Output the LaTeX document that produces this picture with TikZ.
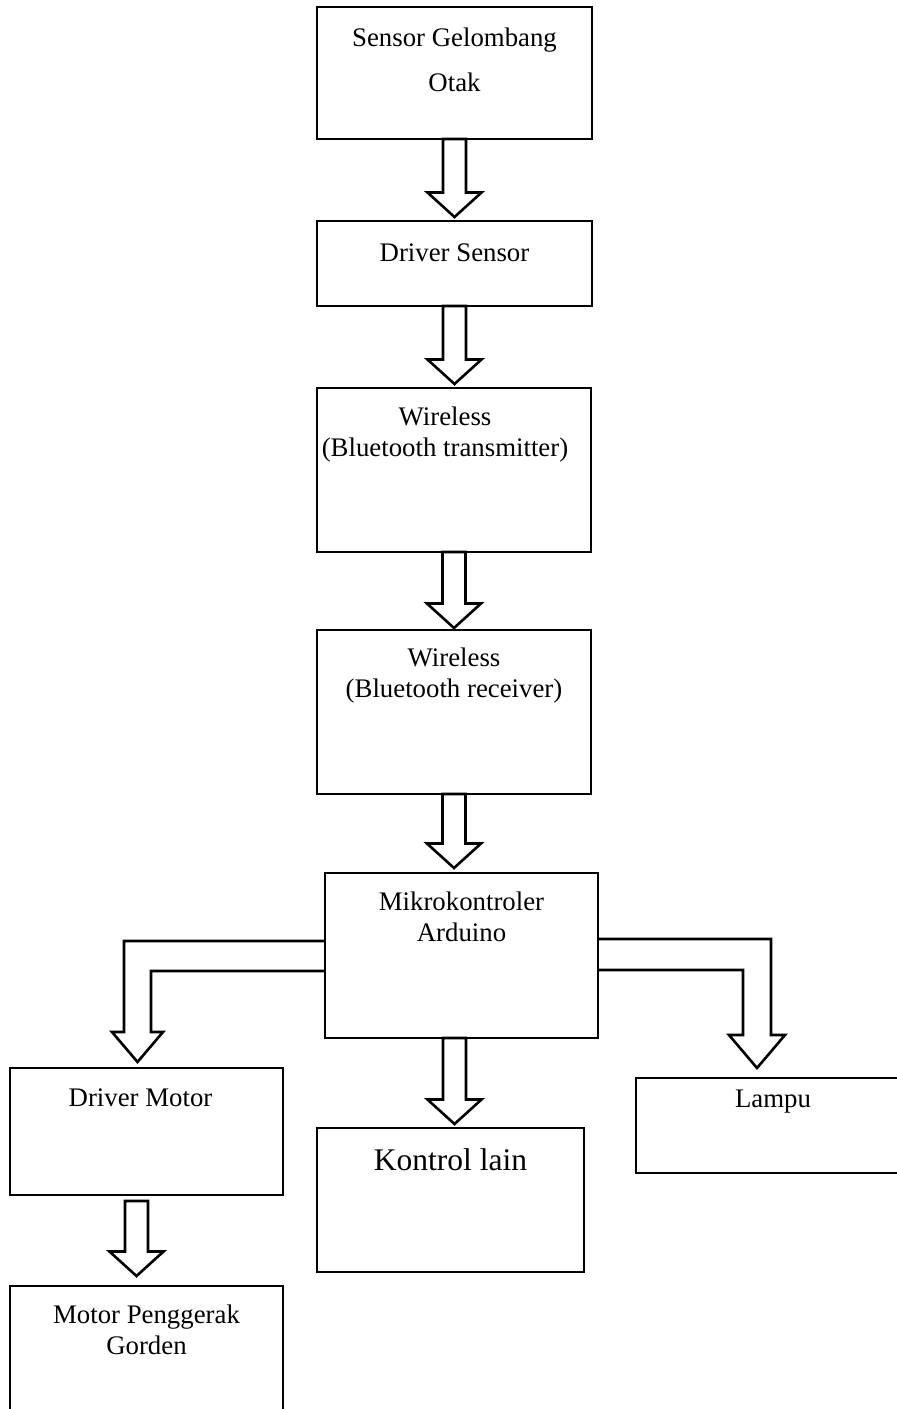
\documentclass[tikz,border=0pt]{standalone}
\usepackage{fontspec}
\setmainfont{Liberation Serif}
\usetikzlibrary{calc}
\tikzset{
	blok/.style={
		rectangle,
		draw=black, line width=2.6pt,
		inner sep=0pt, outer sep=0pt,
		anchor=north west},
	teks/.style={
		font=\fontsize{26.8}{31}\selectfont,
		align=center,
		inner sep=0pt,
		anchor=base},
	blokpanah/.style={draw=black, line width=2.6pt, line join=miter},
}
\newcommand{\panahturun}[2]{%
	\draw[blokpanah] let \p1=#1, \p2=#2 in
		(\x1-11.5pt,\y1) -- (\x1-11.5pt,\y2+24.5pt) -- (\x1-27pt,\y2+24.5pt)
		-- (\x1,\y2) -- (\x1+27pt,\y2+24.5pt) -- (\x1+11.5pt,\y2+24.5pt)
		-- (\x1+11.5pt,\y1) -- cycle;}

\begin{document}
\begin{tikzpicture}[x=1pt,y=-1pt]
	\useasboundingbox (0,0) rectangle (897,1409);
	\clip (0,0) rectangle (897,1409);

	% kotak
	\node[blok, minimum width=275pt, minimum height=132pt] (sensor) at (317,7) {};
	\node[blok, minimum width=275pt, minimum height=85pt] (drvsensor) at (317,221) {};
	\node[blok, minimum width=274pt, minimum height=164pt] (transmitter) at (317,388) {};
	\node[blok, minimum width=274pt, minimum height=164pt] (receiver) at (317,630) {};
	\node[blok, minimum width=273pt, minimum height=165pt] (arduino) at (325,873) {};
	\node[blok, minimum width=273pt, minimum height=127pt] (drvmotor) at (10,1068) {};
	\node[blok, minimum width=267pt, minimum height=144pt] (kontrol) at (317,1128) {};
	\node[blok, minimum width=274pt, minimum height=95pt] (lampu) at (636,1078) {};
	\node[blok, minimum width=273pt, minimum height=160pt] (motorgorden) at (10,1286) {};

	% teks (anchor base = baris terakhir)
	\node[teks] (tsensor) at ([yshift=-84pt]sensor.north) {Sensor Gelombang\\[14pt]Otak};
	\node[teks] (tdrvsensor) at ([yshift=-40pt]drvsensor.north) {Driver Sensor};
	\node[teks] (ttransmitter) at ([xshift=-9pt,yshift=-68pt]transmitter.north) {Wireless\\(Bluetooth transmitter)};
	\node[teks] (treceiver) at ([yshift=-67pt]receiver.north) {Wireless\\(Bluetooth receiver)};
	\node[teks] (tarduino) at ([yshift=-68pt]arduino.north) {Mikrokontroler\\Arduino};
	\node[teks] (tdrvmotor) at ([xshift=-6pt,yshift=-38pt]drvmotor.north) {Driver Motor};
	\node[teks, font=\fontsize{31.5}{36}\selectfont] (tkontrol) at ([yshift=-42pt]kontrol.north) {Kontrol lain};
	\node[teks] (tlampu) at ([yshift=-29pt]lampu.north) {Lampu};
	\node[teks] (tmotorgorden) at ([yshift=-68pt]motorgorden.north) {Motor Penggerak\\Gorden};

	% panah
	\panahturun{(sensor.south)}{([yshift=4pt]drvsensor.north)}
	\panahturun{(drvsensor.south)}{([yshift=4pt]transmitter.north)}
	\panahturun{(transmitter.south)}{([yshift=2pt]receiver.north)}
	\panahturun{(receiver.south)}{([yshift=5pt]arduino.north)}
	\panahturun{([xshift=-7pt]arduino.south)}{([yshift=4pt]kontrol.north)}
	\panahturun{([xshift=-10pt,yshift=-6pt]drvmotor.south)}{([yshift=10pt]motorgorden.north)}

	\coordinate (ujungkiri) at ([xshift=-9pt,yshift=6pt]drvmotor.north);
	\draw[blokpanah] let \p1=([yshift=14.5pt]arduino.west), \p2=(ujungkiri) in
		(\p1) -- (\x2-13.5pt,\y1) -- (\x2-13.5pt,\y2+30pt) -- (\x2-25.5pt,\y2+30pt)
		-- (\p2) -- (\x2+25.5pt,\y2+30pt) -- (\x2+13.5pt,\y2+30pt)
		-- (\x2+13.5pt,\y1-30pt) -- (\x1,\y1-30pt);

	\coordinate (ujungkanan) at ([xshift=-16pt,yshift=10pt]lampu.north);
	\draw[blokpanah] let \p1=([yshift=16.5pt]arduino.east), \p2=(ujungkanan) in
		(\p1) -- (\x2+14pt,\y1) -- (\x2+14pt,\y2+33pt) -- (\x2+28pt,\y2+33pt)
		-- (\p2) -- (\x2-28pt,\y2+33pt) -- (\x2-14pt,\y2+33pt)
		-- (\x2-14pt,\y1-31pt) -- (\x1,\y1-31pt);
\end{tikzpicture}
\end{document}
